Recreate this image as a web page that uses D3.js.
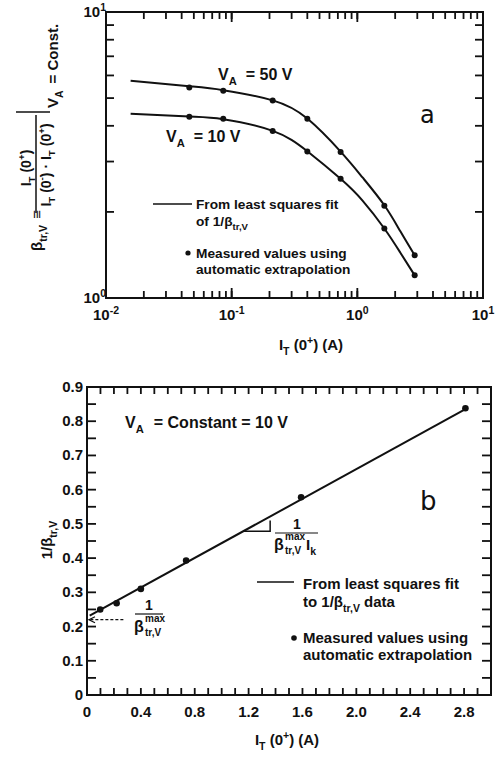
<!DOCTYPE html>
<html>
<head>
<meta charset="utf-8">
<script src="https://cdn.jsdelivr.net/npm/d3@7"></script>
<style>
  body { margin: 0; background: #fff; }
  svg text { font-family: "Liberation Sans", Arial, sans-serif; font-weight: bold; fill: #111; }
</style>
</head>
<body>
<svg id="fig" width="495" height="758"></svg>
<script>
// ---- panel a : beta vs I_T(0+) (log-log) ----
const currentA = [0.046, 0.0857, 0.212, 0.40, 0.736, 1.64, 2.86];
const betaVa50 = [5.45, 5.30, 4.90, 4.23, 3.24, 2.10, 1.41];
const betaVa10 = [4.30, 4.23, 3.84, 3.25, 2.61, 1.75, 1.20];
const fitCurrentA = [0.0157, 0.046, 0.0857, 0.212, 0.40, 0.736, 1.1, 1.64, 2.2, 2.86];
const fitVa50 = [5.75, 5.50, 5.33, 4.91, 4.24, 3.25, 2.64, 2.11, 1.71, 1.41];
const fitVa10 = [4.41, 4.31, 4.22, 3.84, 3.26, 2.61, 2.19, 1.75, 1.44, 1.20];
const xTicksA = [0.01, 0.1, 1, 10];
const xTickExpA = ['-2', '-1', '0', '1'];
const yTicksA = [1, 10];
const yTickExpA = ['0', '1'];

// ---- panel b : 1/beta vs I_T(0+) (linear) ----
const currentB = [0.098, 0.22, 0.40, 0.736, 1.59, 2.81];
const invBeta = [0.25, 0.268, 0.31, 0.393, 0.578, 0.838];
const fitCurrentB = [0.02, 2.81];
const fitInvBeta = [0.232, 0.835];
const interceptB = 0.22;
const arrowFromB = 0.27;
const slopeLegB = [1.16, 1.36];
const xTicksB = [0, 0.4, 0.8, 1.2, 1.6, 2.0, 2.4, 2.8];
const yTicksB = [0, 0.1, 0.2, 0.3, 0.4, 0.5, 0.6, 0.7, 0.8, 0.9];

const svg = d3.select('#fig');
const ink = '#111';

function rich(text, parts, size) {
  let off = 0;
  parts.forEach(([t, kind, dx]) => {
    const target = kind === 'sub' ? size * 0.32 : kind === 'sup' ? -size * 0.42 : 0;
    const ts = text.append('tspan').text(t).attr('dy', target - off);
    if (kind) ts.attr('font-size', size * 0.7);
    if (dx) ts.attr('dx', dx);
    off = target;
  });
  return text;
}

// inward ticks on all four sides, drawn as small filled rects
function drawFrame(g, x, y, xVals, yVals, lenX, lenY) {
  const [x0, x1] = x.range();
  const [y0, y1] = y.range();
  const w = 1.8;
  const marks = [];
  xVals.forEach(v => {
    marks.push({ x: x(v) - w / 2, y: y0 - lenX, w: w, h: lenX });
    marks.push({ x: x(v) - w / 2, y: y1, w: w, h: lenX });
  });
  yVals.forEach(v => {
    marks.push({ x: x0, y: y(v) - w / 2, w: lenY, h: w });
    marks.push({ x: x1 - lenY, y: y(v) - w / 2, w: lenY, h: w });
  });
  g.selectAll(null).data(marks).join('rect')
    .attr('x', d => d.x).attr('y', d => d.y)
    .attr('width', d => d.w).attr('height', d => d.h)
    .attr('fill', ink);
  g.append('rect')
    .attr('x', x0).attr('y', y1)
    .attr('width', x1 - x0).attr('height', y0 - y1)
    .attr('fill', 'none').attr('stroke', ink).attr('stroke-width', 2);
}

// ================= panel a =================
const xA = d3.scaleLog().domain([0.01, 10]).range([106, 483]);
const yA = d3.scaleLog().domain([1, 10]).range([298, 12]);
const gA = svg.append('g');

xTicksA.forEach((v, i) => {
  rich(gA.append('text').attr('x', xA(v)).attr('y', 320)
    .attr('text-anchor', 'middle').attr('font-size', 15),
    [['10'], [xTickExpA[i], 'sup']], 15);
});
yTicksA.forEach((v, i) => {
  rich(gA.append('text').attr('x', 106).attr('y', yA(v) + 5)
    .attr('text-anchor', 'end').attr('font-size', 15),
    [['10'], [yTickExpA[i], 'sup']], 15);
});

const lineA = d3.line()
  .x((d, i) => xA(fitCurrentA[i]))
  .y(d => yA(d))
  .curve(d3.curveNatural);
[fitVa50, fitVa10].forEach(s => {
  gA.append('path').attr('d', lineA(s))
    .attr('fill', 'none').attr('stroke', ink).attr('stroke-width', 2);
});
[betaVa50, betaVa10].forEach(s => {
  gA.selectAll(null).data(s).join('circle')
    .attr('cx', (d, i) => xA(currentA[i]))
    .attr('cy', d => yA(d))
    .attr('r', 3).attr('fill', ink);
});

rich(gA.append('text').attr('x', 218).attr('y', 80).attr('font-size', 16),
  [['V'], ['A', 'sub'], ['= 50 V', '', 9]], 16);
rich(gA.append('text').attr('x', 166).attr('y', 142).attr('font-size', 16),
  [['V'], ['A', 'sub'], ['= 10 V', '', 9]], 16);
gA.append('text').attr('x', 420).attr('y', 123)
  .attr('font-size', 24)
  .style('font-weight', 'normal').style('font-family', '"DejaVu Sans", sans-serif')
  .text('a');

// legend a
gA.append('line').attr('x1', 153).attr('x2', 192).attr('y1', 204).attr('y2', 204)
  .attr('stroke', ink).attr('stroke-width', 1.5);
gA.append('text').attr('x', 196).attr('y', 209).attr('font-size', 13.7).text('From least squares fit');
rich(gA.append('text').attr('x', 196).attr('y', 226).attr('font-size', 13.7),
  [['of 1/β'], ['tr,V', 'sub']], 13.7);
gA.append('circle').attr('cx', 188).attr('cy', 253).attr('r', 2.6).attr('fill', ink);
gA.append('text').attr('x', 196).attr('y', 258).attr('font-size', 13.7).text('Measured values using');
gA.append('text').attr('x', 196).attr('y', 274).attr('font-size', 13.7).text('automatic extrapolation');

// x label a
rich(gA.append('text').attr('x', 311).attr('y', 350).attr('text-anchor', 'middle').attr('font-size', 15),
  [['I'], ['T', 'sub'], [' (0'], ['+', 'sup'], [')   (A)']], 15);

// y label a (rotated composite)
const rot = (x, y) => `translate(${x},${y}) rotate(-90)`;
rich(gA.append('text').attr('transform', rot(42, 251)).attr('font-size', 15),
  [['β'], ['tr,V', 'sub'], [' ≡', '', 2]], 15);
gA.append('line').attr('x1', 36).attr('x2', 36).attr('y1', 115).attr('y2', 213)
  .attr('stroke', ink).attr('stroke-width', 1.5);
rich(gA.append('text').attr('transform', rot(31, 168)).attr('text-anchor', 'middle').attr('font-size', 14),
  [['I'], ['T', 'sub'], [' (0'], ['+', 'sup'], [')']], 14);
rich(gA.append('text').attr('transform', rot(51, 165)).attr('text-anchor', 'middle').attr('font-size', 14),
  [['I'], ['T', 'sub'], [' (0'], ['-', 'sup'], [') · I'], ['T', 'sub'], [' (0'], ['+', 'sup'], [')']], 14);
gA.append('line').attr('x1', 16).attr('x2', 50).attr('y1', 112).attr('y2', 112)
  .attr('stroke', ink).attr('stroke-width', 1.5);
rich(gA.append('text').attr('transform', rot(58, 108)).attr('font-size', 15),
  [['V'], ['A', 'sub'], ['= Const.', '', 7]], 15);

// ================= panel b =================
const xB = d3.scaleLinear().domain([0, 3]).range([87, 491]);
const yB = d3.scaleLinear().domain([0, 0.9]).range([695, 387]);
const gB = svg.append('g');

xTicksB.forEach(v => {
  gB.append('text').attr('x', xB(v)).attr('y', 717)
    .attr('text-anchor', 'middle').attr('font-size', 15)
    .text(v === 0 ? '0' : v.toFixed(1));
});
yTicksB.forEach(v => {
  gB.append('text').attr('x', 83).attr('y', yB(v) + 5)
    .attr('text-anchor', 'end').attr('font-size', 15)
    .text(v === 0 ? '0' : v.toFixed(1));
});

gB.append('path')
  .attr('d', d3.line().x((d, i) => xB(fitCurrentB[i])).y(d => yB(d))(fitInvBeta))
  .attr('fill', 'none').attr('stroke', ink).attr('stroke-width', 2);
gB.selectAll(null).data(invBeta).join('circle')
  .attr('cx', (d, i) => xB(currentB[i]))
  .attr('cy', d => yB(d))
  .attr('r', 3.3).attr('fill', ink);

// intercept arrow
const yI = yB(interceptB);
gB.append('line').attr('x1', xB(arrowFromB)).attr('x2', xB(0) + 3).attr('y1', yI).attr('y2', yI)
  .attr('stroke', ink).attr('stroke-width', 1.3).attr('stroke-dasharray', '3,2');
gB.append('path')
  .attr('d', `M${xB(0) + 8},${yI - 3}L${xB(0) + 2},${yI}L${xB(0) + 8},${yI + 3}`)
  .attr('fill', 'none').attr('stroke', ink).attr('stroke-width', 1.3);
gB.append('line').attr('x1', 135).attr('x2', 163).attr('y1', 614).attr('y2', 614)
  .attr('stroke', ink).attr('stroke-width', 1.2);
gB.append('text').attr('x', 149).attr('y', 610).attr('text-anchor', 'middle').attr('font-size', 14).text('1');
gB.append('text').attr('x', 134).attr('y', 632).attr('font-size', 16).text('β');
gB.append('text').attr('x', 145).attr('y', 622).attr('font-size', 10).text('max');
gB.append('text').attr('x', 145).attr('y', 636).attr('font-size', 10).text('tr,V');

// slope triangle
const fitAt = v => fitInvBeta[0] + (fitInvBeta[1] - fitInvBeta[0]) * (v - fitCurrentB[0]) / (fitCurrentB[1] - fitCurrentB[0]);
const yT = yB(fitAt(slopeLegB[0]));
gB.append('path')
  .attr('d', `M${xB(slopeLegB[0])},${yT}H${xB(slopeLegB[1])}V${yB(fitAt(slopeLegB[1])) + 4}`)
  .attr('fill', 'none').attr('stroke', ink).attr('stroke-width', 1.5);
gB.append('line').attr('x1', 275).attr('x2', 318).attr('y1', 533).attr('y2', 533)
  .attr('stroke', ink).attr('stroke-width', 1.2);
gB.append('text').attr('x', 297).attr('y', 529).attr('text-anchor', 'middle').attr('font-size', 14).text('1');
gB.append('text').attr('x', 274).attr('y', 550).attr('font-size', 16).text('β');
gB.append('text').attr('x', 285).attr('y', 540).attr('font-size', 10).text('max');
gB.append('text').attr('x', 285).attr('y', 554).attr('font-size', 10).text('tr,V');
rich(gB.append('text').attr('x', 306).attr('y', 550).attr('font-size', 15),
  [['I'], ['k', 'sub']], 15);

rich(gB.append('text').attr('x', 125).attr('y', 428).attr('font-size', 16),
  [['V'], ['A', 'sub'], ['= Constant = 10 V', '', 10]], 16);
gB.append('text').attr('x', 420).attr('y', 510)
  .style('font-family', '"DejaVu Sans", sans-serif').style('font-weight', 'normal')
  .attr('font-size', 26).text('b');

// legend b
gB.append('line').attr('x1', 257).attr('x2', 294).attr('y1', 582).attr('y2', 582)
  .attr('stroke', ink).attr('stroke-width', 1.5);
gB.append('text').attr('x', 303).attr('y', 589).attr('font-size', 15).text('From least squares fit');
rich(gB.append('text').attr('x', 303).attr('y', 607).attr('font-size', 15),
  [['to 1/β'], ['tr,V', 'sub'], [' data']], 15);
gB.append('circle').attr('cx', 294).attr('cy', 638).attr('r', 2.8).attr('fill', ink);
gB.append('text').attr('x', 303).attr('y', 643).attr('font-size', 15).text('Measured values using');
gB.append('text').attr('x', 303).attr('y', 660).attr('font-size', 15).text('automatic extrapolation');

rich(gB.append('text').attr('x', 287).attr('y', 745).attr('text-anchor', 'middle').attr('font-size', 15),
  [['I'], ['T', 'sub'], [' (0'], ['+', 'sup'], [')   (A)']], 15);
rich(gB.append('text').attr('transform', rot(52, 540)).attr('text-anchor', 'middle').attr('font-size', 15),
  [['1/β'], ['tr,V', 'sub']], 15);

// frames and ticks drawn last, on top of everything
const frames = svg.append('g');
drawFrame(frames, xA, yA, xA.ticks(), yA.ticks(), 7, 8);
drawFrame(frames, xA, yA, xTicksA, [], 10, 0);
drawFrame(frames, xB, yB, xB.ticks(30), yB.ticks(18), 7, 9);
</script>
</body>
</html>
